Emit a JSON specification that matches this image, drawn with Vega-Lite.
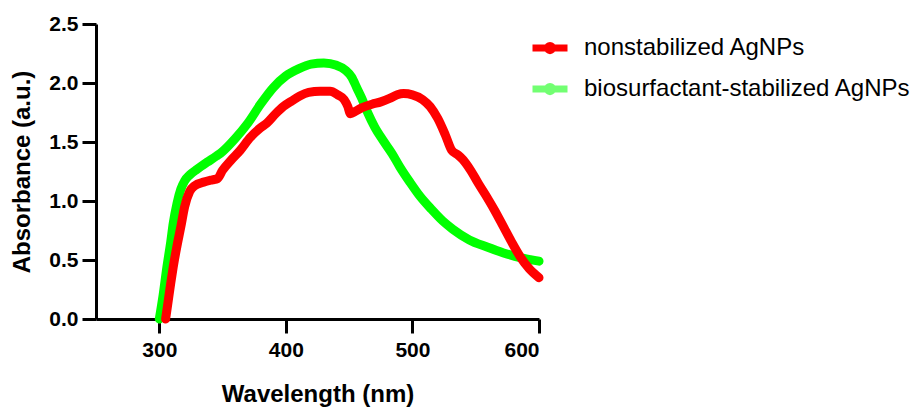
{
  "$schema": "https://vega.github.io/schema/vega-lite/v6.json",
  "width": 443,
  "height": 295,
  "autosize": {"type": "none"},
  "padding": {"left": 96, "top": 24, "right": 378, "bottom": 91},
  "background": "white",
  "config": {
    "view": {"stroke": null},
    "font": "Liberation Sans",
    "axis": {
      "grid": false,
      "domainColor": "black",
      "domainWidth": 3,
      "tickColor": "black",
      "tickWidth": 3,
      "tickSize": 14,
      "labelColor": "black",
      "labelFont": "Liberation Sans",
      "labelFontWeight": "bold",
      "labelFontSize": 21,
      "titleColor": "black",
      "titleFont": "Liberation Sans",
      "titleFontWeight": "bold",
      "titleFontSize": 24
    }
  },
  "datasets": {
    "spectra": [
      {"series": "biosurfactant-stabilized AgNPs", "wl": 300, "abs": 0.0},
      {"series": "biosurfactant-stabilized AgNPs", "wl": 303, "abs": 0.2},
      {"series": "biosurfactant-stabilized AgNPs", "wl": 306, "abs": 0.44},
      {"series": "biosurfactant-stabilized AgNPs", "wl": 309, "abs": 0.65},
      {"series": "biosurfactant-stabilized AgNPs", "wl": 311, "abs": 0.81},
      {"series": "biosurfactant-stabilized AgNPs", "wl": 314, "abs": 0.98},
      {"series": "biosurfactant-stabilized AgNPs", "wl": 317, "abs": 1.1},
      {"series": "biosurfactant-stabilized AgNPs", "wl": 320, "abs": 1.17},
      {"series": "biosurfactant-stabilized AgNPs", "wl": 324, "abs": 1.22},
      {"series": "biosurfactant-stabilized AgNPs", "wl": 330, "abs": 1.27},
      {"series": "biosurfactant-stabilized AgNPs", "wl": 338, "abs": 1.33},
      {"series": "biosurfactant-stabilized AgNPs", "wl": 345, "abs": 1.38},
      {"series": "biosurfactant-stabilized AgNPs", "wl": 350, "abs": 1.42},
      {"series": "biosurfactant-stabilized AgNPs", "wl": 360, "abs": 1.53},
      {"series": "biosurfactant-stabilized AgNPs", "wl": 370, "abs": 1.66},
      {"series": "biosurfactant-stabilized AgNPs", "wl": 380, "abs": 1.82},
      {"series": "biosurfactant-stabilized AgNPs", "wl": 390, "abs": 1.96},
      {"series": "biosurfactant-stabilized AgNPs", "wl": 400, "abs": 2.06},
      {"series": "biosurfactant-stabilized AgNPs", "wl": 410, "abs": 2.12},
      {"series": "biosurfactant-stabilized AgNPs", "wl": 420, "abs": 2.16},
      {"series": "biosurfactant-stabilized AgNPs", "wl": 430, "abs": 2.17},
      {"series": "biosurfactant-stabilized AgNPs", "wl": 440, "abs": 2.15},
      {"series": "biosurfactant-stabilized AgNPs", "wl": 447, "abs": 2.11},
      {"series": "biosurfactant-stabilized AgNPs", "wl": 452, "abs": 2.05},
      {"series": "biosurfactant-stabilized AgNPs", "wl": 456, "abs": 1.96},
      {"series": "biosurfactant-stabilized AgNPs", "wl": 460, "abs": 1.87},
      {"series": "biosurfactant-stabilized AgNPs", "wl": 465, "abs": 1.74},
      {"series": "biosurfactant-stabilized AgNPs", "wl": 470, "abs": 1.63},
      {"series": "biosurfactant-stabilized AgNPs", "wl": 477, "abs": 1.51},
      {"series": "biosurfactant-stabilized AgNPs", "wl": 484, "abs": 1.4},
      {"series": "biosurfactant-stabilized AgNPs", "wl": 490, "abs": 1.29},
      {"series": "biosurfactant-stabilized AgNPs", "wl": 498, "abs": 1.16},
      {"series": "biosurfactant-stabilized AgNPs", "wl": 506, "abs": 1.04},
      {"series": "biosurfactant-stabilized AgNPs", "wl": 515, "abs": 0.93},
      {"series": "biosurfactant-stabilized AgNPs", "wl": 524, "abs": 0.83},
      {"series": "biosurfactant-stabilized AgNPs", "wl": 532, "abs": 0.76},
      {"series": "biosurfactant-stabilized AgNPs", "wl": 545, "abs": 0.67},
      {"series": "biosurfactant-stabilized AgNPs", "wl": 559, "abs": 0.61},
      {"series": "biosurfactant-stabilized AgNPs", "wl": 572, "abs": 0.56},
      {"series": "biosurfactant-stabilized AgNPs", "wl": 585, "abs": 0.52},
      {"series": "biosurfactant-stabilized AgNPs", "wl": 600, "abs": 0.49},
      {"series": "nonstabilized AgNPs", "wl": 305, "abs": 0.0},
      {"series": "nonstabilized AgNPs", "wl": 307, "abs": 0.15},
      {"series": "nonstabilized AgNPs", "wl": 309, "abs": 0.3},
      {"series": "nonstabilized AgNPs", "wl": 311, "abs": 0.44},
      {"series": "nonstabilized AgNPs", "wl": 314, "abs": 0.62},
      {"series": "nonstabilized AgNPs", "wl": 317, "abs": 0.78},
      {"series": "nonstabilized AgNPs", "wl": 320, "abs": 0.95},
      {"series": "nonstabilized AgNPs", "wl": 324, "abs": 1.08},
      {"series": "nonstabilized AgNPs", "wl": 328, "abs": 1.13},
      {"series": "nonstabilized AgNPs", "wl": 335, "abs": 1.16},
      {"series": "nonstabilized AgNPs", "wl": 342, "abs": 1.18},
      {"series": "nonstabilized AgNPs", "wl": 346, "abs": 1.19},
      {"series": "nonstabilized AgNPs", "wl": 350, "abs": 1.26},
      {"series": "nonstabilized AgNPs", "wl": 357, "abs": 1.35},
      {"series": "nonstabilized AgNPs", "wl": 364, "abs": 1.43},
      {"series": "nonstabilized AgNPs", "wl": 372, "abs": 1.54},
      {"series": "nonstabilized AgNPs", "wl": 380, "abs": 1.62},
      {"series": "nonstabilized AgNPs", "wl": 385, "abs": 1.66},
      {"series": "nonstabilized AgNPs", "wl": 392, "abs": 1.74},
      {"series": "nonstabilized AgNPs", "wl": 398, "abs": 1.8},
      {"series": "nonstabilized AgNPs", "wl": 405, "abs": 1.85},
      {"series": "nonstabilized AgNPs", "wl": 411, "abs": 1.89},
      {"series": "nonstabilized AgNPs", "wl": 418, "abs": 1.92},
      {"series": "nonstabilized AgNPs", "wl": 427, "abs": 1.93},
      {"series": "nonstabilized AgNPs", "wl": 435, "abs": 1.93},
      {"series": "nonstabilized AgNPs", "wl": 441, "abs": 1.9},
      {"series": "nonstabilized AgNPs", "wl": 446, "abs": 1.86},
      {"series": "nonstabilized AgNPs", "wl": 449, "abs": 1.8},
      {"series": "nonstabilized AgNPs", "wl": 451, "abs": 1.74},
      {"series": "nonstabilized AgNPs", "wl": 455, "abs": 1.76},
      {"series": "nonstabilized AgNPs", "wl": 460, "abs": 1.79},
      {"series": "nonstabilized AgNPs", "wl": 468, "abs": 1.82},
      {"series": "nonstabilized AgNPs", "wl": 475, "abs": 1.84},
      {"series": "nonstabilized AgNPs", "wl": 482, "abs": 1.87},
      {"series": "nonstabilized AgNPs", "wl": 488, "abs": 1.9},
      {"series": "nonstabilized AgNPs", "wl": 493, "abs": 1.91},
      {"series": "nonstabilized AgNPs", "wl": 500, "abs": 1.9},
      {"series": "nonstabilized AgNPs", "wl": 508, "abs": 1.86},
      {"series": "nonstabilized AgNPs", "wl": 514, "abs": 1.8},
      {"series": "nonstabilized AgNPs", "wl": 520, "abs": 1.7},
      {"series": "nonstabilized AgNPs", "wl": 526, "abs": 1.56},
      {"series": "nonstabilized AgNPs", "wl": 531, "abs": 1.43},
      {"series": "nonstabilized AgNPs", "wl": 536, "abs": 1.39},
      {"series": "nonstabilized AgNPs", "wl": 540, "abs": 1.35},
      {"series": "nonstabilized AgNPs", "wl": 546, "abs": 1.26},
      {"series": "nonstabilized AgNPs", "wl": 552, "abs": 1.15},
      {"series": "nonstabilized AgNPs", "wl": 559, "abs": 1.03},
      {"series": "nonstabilized AgNPs", "wl": 565, "abs": 0.92},
      {"series": "nonstabilized AgNPs", "wl": 572, "abs": 0.78},
      {"series": "nonstabilized AgNPs", "wl": 578, "abs": 0.66},
      {"series": "nonstabilized AgNPs", "wl": 585, "abs": 0.53},
      {"series": "nonstabilized AgNPs", "wl": 592, "abs": 0.43},
      {"series": "nonstabilized AgNPs", "wl": 600, "abs": 0.35}
    ]
  },
  "data": {"name": "spectra"},
  "encoding": {
    "x": {
      "field": "wl",
      "type": "quantitative",
      "scale": {"domain": [250, 600], "nice": false, "zero": false},
      "axis": {
        "title": "Wavelength (nm)",
        "values": [300, 400, 500, 600],
        "labelPadding": 6,
        "titlePadding": 22
      }
    },
    "y": {
      "field": "abs",
      "type": "quantitative",
      "scale": {"domain": [0, 2.5], "nice": false},
      "axis": {
        "title": "Absorbance (a.u.)",
        "values": [0, 0.5, 1, 1.5, 2, 2.5],
        "format": ".1f",
        "labelPadding": 4,
        "titlePadding": 14
      }
    },
    "color": {
      "field": "series",
      "type": "nominal",
      "scale": {
        "domain": ["nonstabilized AgNPs", "biosurfactant-stabilized AgNPs"],
        "range": ["#ff0000", "#00ff00"]
      },
      "legend": {
        "title": null,
        "orient": "none",
        "legendX": 433,
        "legendY": 3,
        "symbolType": "M-1,0H1M-0.15,0A0.15,0.15 0 1,1 0.15,0A0.15,0.15 0 1,1 -0.15,0Z",
        "symbolSize": 1225,
        "symbolStrokeWidth": 7,
        "labelFont": "Liberation Sans",
        "labelFontSize": 24,
        "labelColor": "black",
        "labelOffset": 13,
        "rowPadding": 3,
        "labelLimit": 400,
        "encode": {
          "symbols": {
            "update": {
              "opacity": {"signal": "datum.value === 'biosurfactant-stabilized AgNPs' ? 0.55 : 1"}
            }
          }
        }
      }
    }
  },
  "layer": [
    {
      "transform": [{"filter": "datum.series === 'biosurfactant-stabilized AgNPs'"}],
      "mark": {"type": "line", "strokeWidth": 9, "strokeCap": "round", "strokeJoin": "round", "interpolate": "monotone"}
    },
    {
      "transform": [{"filter": "datum.series === 'nonstabilized AgNPs'"}],
      "mark": {"type": "line", "strokeWidth": 9, "strokeCap": "round", "strokeJoin": "round", "interpolate": "monotone"}
    }
  ]
}
